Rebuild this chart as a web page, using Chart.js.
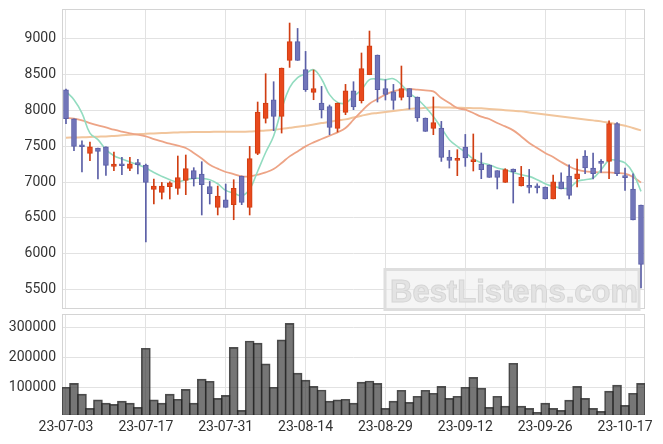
<!DOCTYPE html>
<html>
<head>
<meta charset="utf-8">
<script src="https://cdn.jsdelivr.net/npm/chart.js@4"></script>
<style>
  body { margin: 0; background: #fff; }
  #wrap { position: relative; width: 663px; height: 444px; }
  canvas { position: absolute; left: 0; }
  #priceChart { top: 0; }
  #volumeChart { top: 312px; }
</style>
</head>
<body>
<div id="wrap">
  <canvas id="priceChart" width="663" height="311"></canvas>
  <canvas id="volumeChart" width="663" height="132"></canvas>
</div>
<script>
const dates = [
  "23-07-03", "23-07-04", "23-07-05", "23-07-06", "23-07-07", "23-07-10", "23-07-11", "23-07-12", "23-07-13", "23-07-14",
  "23-07-17", "23-07-18", "23-07-19", "23-07-20", "23-07-21", "23-07-24", "23-07-25", "23-07-26", "23-07-27", "23-07-28",
  "23-07-31", "23-08-01", "23-08-02", "23-08-03", "23-08-04", "23-08-07", "23-08-08", "23-08-09", "23-08-10", "23-08-11",
  "23-08-14", "23-08-16", "23-08-17", "23-08-18", "23-08-21", "23-08-22", "23-08-23", "23-08-24", "23-08-25", "23-08-28",
  "23-08-29", "23-08-30", "23-08-31", "23-09-01", "23-09-04", "23-09-05", "23-09-06", "23-09-07", "23-09-08", "23-09-11",
  "23-09-12", "23-09-13", "23-09-14", "23-09-15", "23-09-18", "23-09-19", "23-09-20", "23-09-21", "23-09-22", "23-09-25",
  "23-09-26", "23-09-27", "23-10-04", "23-10-05", "23-10-06", "23-10-10", "23-10-11", "23-10-12", "23-10-13", "23-10-16",
  "23-10-17", "23-10-18", "23-10-19"
];

const opens = [
  8282, 7879, 7505, 7397, 7472, 7490, 7217, 7250, 7189, 7258,
  7236, 6897, 6856, 6935, 6911, 7022, 7157, 7111, 6935, 6647,
  6754, 6685, 7083, 6647, 7397, 7883, 8143, 7911, 8689, 8949,
  8560, 8245, 8097, 8046, 7744, 7967, 8268, 8129, 8490, 8764,
  8296, 8254, 8175, 8296, 8181, 7889, 7745, 7750, 7347, 7300,
  7486, 7282, 7250, 7236, 7157, 6994, 7181, 6944, 6949, 6932,
  6931, 6764, 7004, 7083, 7042, 7361, 7194, 7270, 7286, 7810,
  7088, 6903, 6681
];
const highs = [
  8290, 7879, 7573, 7556, 7472, 7490, 7417, 7342, 7342, 7314,
  7250, 7042, 6994, 7004, 7361, 7375, 7199, 7282, 7008, 6944,
  6972, 7032, 7083, 7495, 8111, 8504, 8393, 8583, 9208, 9133,
  8814, 8556, 8328, 8069, 8097, 8356, 8393, 8792, 9097, 8764,
  8421, 8356, 8611, 8296, 8181, 7889, 8181, 7842, 7439, 7449,
  7661, 7667, 7403, 7236, 7157, 7185, 7181, 7217, 7175, 6976,
  6931, 7097, 7129, 7240, 7319, 7435, 7403, 7310, 7851, 7824,
  7194, 7115, 6681
];
const lows = [
  7810, 7435, 7139, 7296, 7042, 7092, 7157, 7101, 7157, 7111,
  6167, 6694, 6764, 6764, 6828, 6824, 6944, 6542, 6694, 6542,
  6647, 6476, 6685, 6542, 7380, 7819, 7713, 7680, 8592, 8689,
  8258, 8143, 7889, 7657, 7694, 7935, 8004, 8097, 8490, 8111,
  8139, 8009, 8139, 8014, 7842, 7703, 7657, 7286, 7194, 7088,
  7217, 7153, 7046, 7064, 6903, 6994, 6708, 6944, 6847, 6847,
  6764, 6764, 6903, 6764, 6931, 7115, 7042, 7133, 7046, 7088,
  6883, 6472, 5528
];
const closes = [
  7879, 7495, 7490, 7490, 7425, 7231, 7250, 7226, 7254, 7242,
  6994, 6944, 6944, 6990, 7060, 7185, 7046, 6963, 6838, 6806,
  6647, 6911, 6717, 7324, 7972, 8097, 7911, 8583, 8949, 8689,
  8282, 8296, 8004, 7758, 8097, 8268, 8042, 8574, 8893, 8282,
  8217, 8133, 8296, 8181, 7889, 7703, 7824, 7342, 7300, 7324,
  7333, 7310, 7171, 7064, 7064, 7171, 7143, 7069, 6925, 6918,
  6764, 7004, 6903, 6814, 7115, 7194, 7115, 7258, 7810, 7115,
  7060, 6472, 5856
];
const volumes = [
  100000, 113000, 77000, 30000, 58000, 47000, 43000, 54000, 47000, 33000,
  230000, 58000, 47000, 77000, 60000, 93000, 47000, 127000, 120000, 63000,
  73000, 233000, 23000, 254000, 247000, 178000, 100000, 258000, 313000, 147000,
  124000, 103000, 91000, 54000, 58000, 60000, 47000, 117000, 121000, 113000,
  30000, 54000, 90000, 50000, 70000, 90000, 80000, 103000, 63000, 70000,
  100000, 133000, 97000, 33000, 70000, 37000, 180000, 37000, 30000, 17000,
  47000, 30000, 23000, 57000, 103000, 63000, 30000, 20000, 87000, 107000,
  40000, 80000, 113000
];
const ma5 = [
  8258, 8143, 7958, 7680, 7588, 7449, 7365, 7319, 7278, 7240,
  7194, 7133, 7078, 7032, 7000, 7032, 7050, 7050, 7032, 6976,
  6883, 6847, 6810, 6900, 7150, 7410, 7640, 8010, 8310, 8450,
  8504, 8560, 8431, 8213, 8106, 8097, 8189, 8282, 8421, 8431,
  8421, 8435, 8351, 8236, 8153, 8042, 7911, 7750, 7588, 7495,
  7411, 7319, 7268, 7240, 7194, 7171, 7133, 7101, 7078, 7032,
  6976, 6939, 6917, 6917, 7008, 7032, 7055, 7171, 7300, 7300,
  7264, 7125, 6870
];
const ma20 = [
  7889, 7879, 7856, 7819, 7786, 7758, 7726, 7699, 7675, 7657,
  7633, 7597, 7564, 7532, 7504, 7472, 7403, 7326, 7240, 7185,
  7139, 7111, 7078, 7078, 7101, 7133, 7181, 7264, 7356, 7425,
  7495, 7550, 7597, 7643, 7689, 7750, 7865, 7981, 8088, 8153,
  8213, 8258, 8282, 8292, 8282, 8272, 8258, 8167, 8097, 8028,
  8004, 7958, 7907, 7875, 7819, 7772, 7717, 7633, 7542, 7472,
  7403, 7347, 7278, 7217, 7171, 7147, 7139, 7133, 7133, 7125,
  7115, 7069, 6994
];
const ma60 = [
  7615, 7618, 7621, 7625, 7629, 7633, 7640, 7648, 7656, 7664,
  7671, 7675, 7680, 7684, 7688, 7692, 7694, 7695, 7696, 7697,
  7698, 7699, 7699, 7700, 7708, 7716, 7726, 7738, 7752, 7766,
  7782, 7800, 7818, 7836, 7856, 7870, 7895, 7920, 7944, 7958,
  7972, 7986, 8000, 8014, 8022, 8030, 8037, 8036, 8034, 8032,
  8029, 8026, 8023, 8015, 8006, 7998, 7990, 7981, 7967, 7953,
  7939, 7925, 7911, 7897, 7883, 7869, 7856, 7842, 7822, 7802,
  7782, 7750, 7717
];
const priceTicks = [5500, 6000, 6500, 7000, 7500, 8000, 8500, 9000];
const volumeTicks = [100000, 200000, 300000];

const upFill = "#e8491d";
const upLine = "#d03e12";
const downFill = "#7175b9";
const downLine = "#5b5fa6";
const gridColor = "#e2e2e2";

Chart.defaults.font.family = "Roboto";
Chart.defaults.font.size = 14;
Chart.defaults.color = "#333";
Chart.defaults.animation = false;

const isUp = closes.map((c, i) => c >= opens[i]);

// box around each plot area
const framePlugin = {
  id: "frame",
  beforeDatasetsDraw(chart) {
    const a = chart.chartArea;
    const ctx = chart.ctx;
    ctx.save();
    ctx.strokeStyle = "#d4d4d4";
    ctx.lineWidth = 1;
    ctx.strokeRect(a.left + 0.5, a.top + 0.5, a.right - a.left - 1, a.bottom - a.top - 1);
    ctx.restore();
  },
};

const watermarkPlugin = {
  id: "watermark",
  beforeDatasetsDraw(chart) {
    const ctx = chart.ctx;
    ctx.save();
    ctx.fillStyle = "rgba(238,238,238,0.6)";
    ctx.fillRect(384, 268, 256, 42);
    ctx.strokeStyle = "#dedede";
    ctx.lineWidth = 3;
    ctx.strokeRect(385, 269.5, 254, 40);
    ctx.font = "bold 31px 'Liberation Sans'";
    ctx.textBaseline = "alphabetic";
    ctx.fillStyle = "#e3e3e3";
    ctx.fillText("BestListens.com", 390, 302);
    ctx.strokeStyle = "#d6d6d6";
    ctx.lineWidth = 1;
    ctx.strokeText("BestListens.com", 390, 302);
    ctx.restore();
  },
};

function xScale(showLabels, height) {
  return {
    type: "category",
    offset: true,
    grid: {
      offset: false,
      drawTicks: false,
      color: (c) => (c.index % 10 === 0 ? gridColor : "rgba(0,0,0,0)"),
    },
    border: { display: false },
    ticks: {
      display: showLabels,
      autoSkip: false,
      maxRotation: 0,
      padding: 4,
      callback: function (value, index) {
        return index % 10 === 0 ? this.getLabelForValue(value) : "";
      },
    },
    afterFit: (scale) => {
      scale.height = height;
      scale.paddingLeft = 0;
      scale.paddingRight = 0;
    },
  };
}

function yScale(min, max, tickValues) {
  return {
    min: min,
    max: max,
    grid: { color: gridColor, drawTicks: false },
    border: { display: false },
    ticks: { padding: 6, callback: (v) => String(v) },
    afterBuildTicks: (scale) => {
      scale.ticks = tickValues.map((v) => ({ value: v }));
    },
    afterFit: (scale) => {
      scale.width = 62;
      scale.paddingTop = 0;
      scale.paddingBottom = 0;
    },
  };
}

const priceChart = new Chart(document.getElementById("priceChart"), {
  type: "bar",
  data: {
    labels: dates,
    datasets: [
      {
        type: "line",
        data: ma60,
        borderColor: "#f1c59c",
        borderWidth: 2,
        pointRadius: 0,
        tension: 0.4,
        order: 4,
      },
      {
        type: "line",
        data: ma20,
        borderColor: "#eda486",
        borderWidth: 1.8,
        pointRadius: 0,
        tension: 0.4,
        order: 3,
      },
      {
        type: "line",
        data: ma5,
        borderColor: "#93dcc0",
        borderWidth: 1.6,
        pointRadius: 0,
        tension: 0.4,
        order: 2,
      },
      {
        data: lows.map((l, i) => [l, highs[i]]),
        backgroundColor: isUp.map((u) => (u ? upLine : downLine)),
        barThickness: 1,
        grouped: false,
        order: 1,
      },
      {
        data: opens.map((o, i) => [o, closes[i]]),
        backgroundColor: isUp.map((u) => (u ? upFill : downFill)),
        borderColor: isUp.map((u) => (u ? upLine : downLine)),
        borderWidth: 1,
        borderSkipped: false,
        barThickness: 5,
        minBarLength: 2,
        grouped: false,
        order: 0,
      },
    ],
  },
  options: {
    responsive: false,
    layout: { autoPadding: false, padding: { top: 9, right: 18, bottom: 2, left: 0 } },
    plugins: { legend: { display: false }, tooltip: { enabled: false } },
    scales: {
      x: xScale(false, 0),
      y: yScale(5236, 9403, priceTicks),
    },
  },
  plugins: [framePlugin, watermarkPlugin],
});

const volumeChart = new Chart(document.getElementById("volumeChart"), {
  type: "bar",
  data: {
    labels: dates,
    datasets: [
      {
        data: volumes,
        backgroundColor: "rgba(60,60,60,0.7)",
        borderColor: "rgba(35,35,35,0.8)",
        borderWidth: 1,
        barThickness: 9,
      },
    ],
  },
  options: {
    responsive: false,
    layout: { autoPadding: false, padding: { top: 2, right: 18, bottom: 0, left: 0 } },
    plugins: { legend: { display: false }, tooltip: { enabled: false } },
    scales: {
      x: xScale(true, 29),
      y: yScale(7700, 344000, volumeTicks),
    },
  },
  plugins: [framePlugin],
});
</script>
</body>
</html>
